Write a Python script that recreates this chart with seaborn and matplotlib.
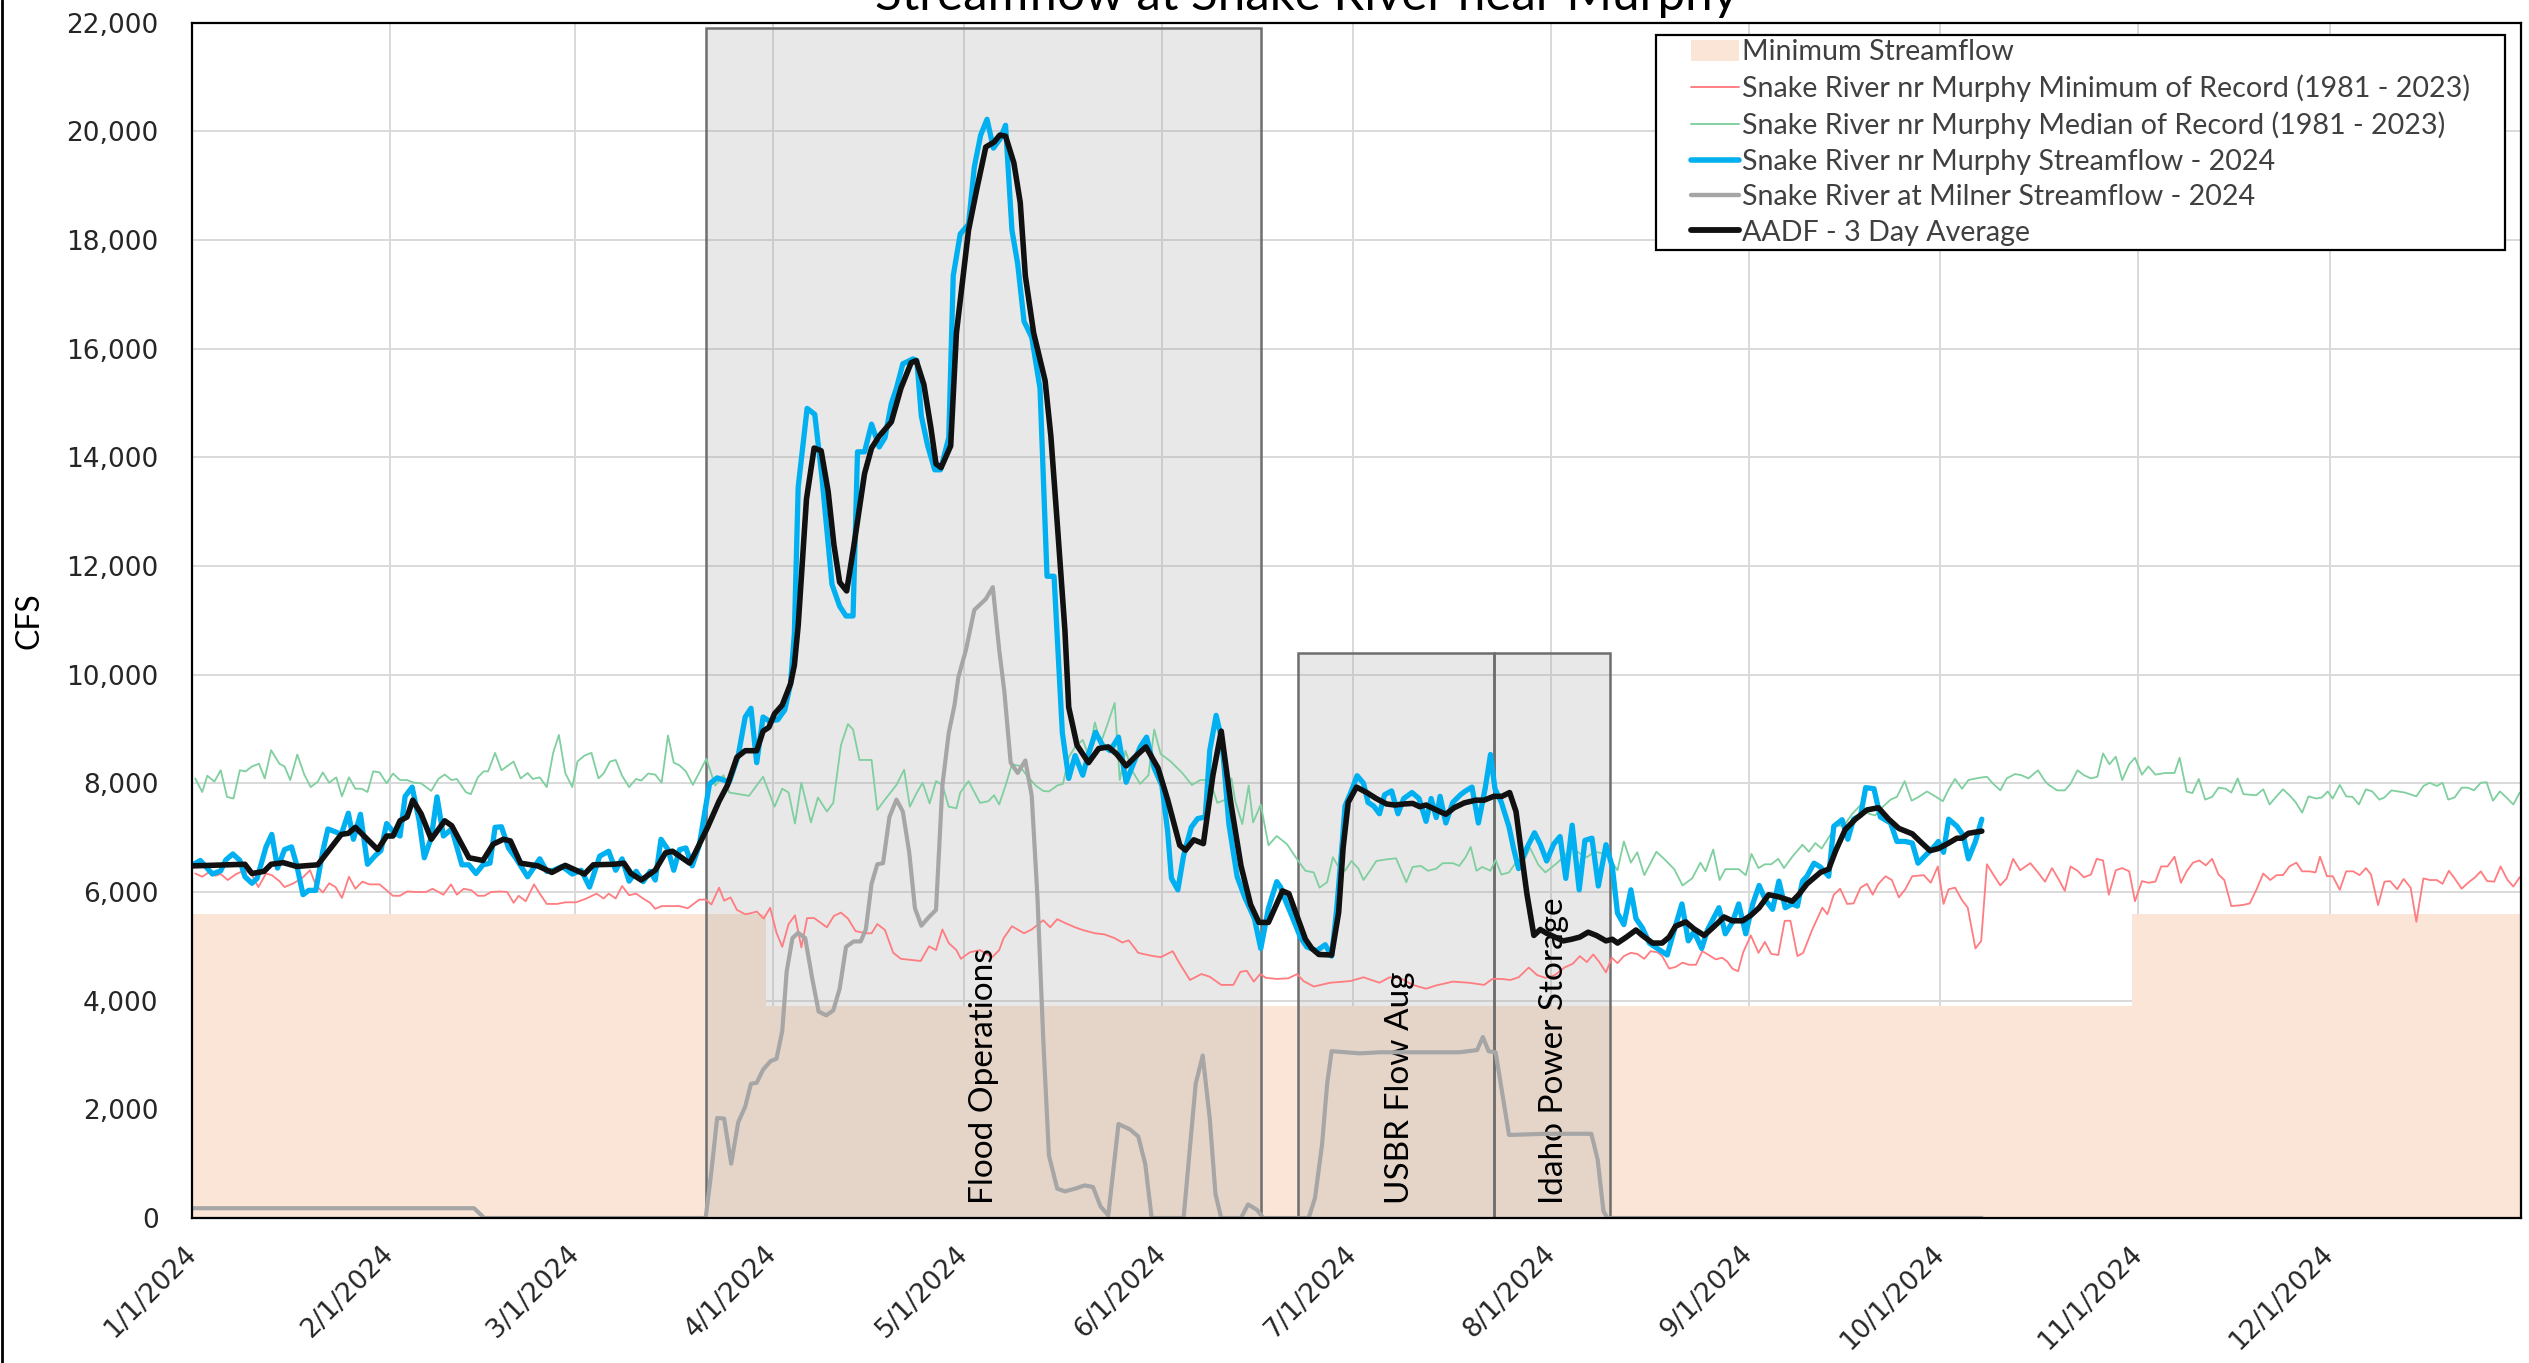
import pandas as pd
import matplotlib
matplotlib.use("Agg")
import matplotlib.pyplot as plt
import matplotlib.dates as mdates
from matplotlib.patches import Rectangle, Patch
from matplotlib.lines import Line2D
from matplotlib.ticker import MultipleLocator, FuncFormatter
import seaborn as sns

# --- data: (days after 1/1/2024, cfs) ---
min_record = [
    (0.5, 6340), (1.6, 6280), (2.6, 6360), (3.7, 6300), (4.5, 6330), (5.6, 6220), (6.9, 6330), (8.3, 6400),
    (9.4, 6310), (10.4, 6090), (11.6, 6340), (12.5, 6310), (13.7, 6200), (14.5, 6090), (15.9, 6160), (17.2, 6250),
    (18.5, 6400), (19.4, 6130), (20.5, 5990), (21.5, 6160), (22.5, 6090), (23.5, 5890), (24.6, 6280), (25.6, 6060),
    (26.7, 6190), (27.8, 6140), (29.4, 6140), (30.5, 6030), (31.5, 5930), (32.6, 5930), (33.7, 6010), (35.3, 6000),
    (36.7, 6000), (37.7, 6060), (39.4, 5950), (40.6, 6140), (41.5, 5950), (42.6, 6060), (43.8, 6030), (44.8, 5930),
    (45.8, 5930), (46.9, 6000), (48.3, 6010), (49.4, 6000), (50.4, 5800), (51.2, 5930), (52.3, 5830), (53.6, 6140),
    (54.5, 5970), (55.6, 5780), (57.2, 5780), (58.5, 5810), (60.2, 5810), (61.8, 5880), (63.4, 5970), (64.5, 5880),
    (65.3, 5970), (66.4, 5880), (67.4, 6110), (68.5, 5940), (69.6, 5970), (70.7, 5880), (71.8, 5800), (72.6, 5690),
    (73.6, 5740), (75.3, 5740), (76.4, 5740), (77.7, 5700), (79.5, 5860), (80.5, 5860), (81.4, 5770), (82.6, 6080),
    (83.4, 5840), (84.4, 5900), (85.4, 5670), (86.7, 5590), (87.6, 5610), (88.5, 5640), (89.6, 5510), (90.6, 5710),
    (91.6, 5250), (92.5, 4990), (93.5, 5410), (94.5, 5570), (95.5, 4980), (96.4, 5520), (97.5, 5520), (99.5, 5350),
    (100.6, 5560), (101.7, 5620), (102.8, 5510), (104.0, 5280), (105.6, 5240), (106.5, 5240), (107.4, 5410),
    (108.6, 5300), (109.9, 4880), (111.1, 4770), (114.2, 4730), (115.5, 5000), (116.6, 4930), (117.6, 5310),
    (118.6, 5060), (119.8, 4930), (120.5, 4770), (121.9, 4890), (123.5, 4930), (125.4, 4800), (126.5, 4930),
    (127.2, 5150), (128.5, 5370), (130.4, 5240), (131.6, 5310), (133.4, 5480), (134.5, 5350), (135.6, 5500),
    (136.8, 5430), (138.4, 5350), (139.6, 5300), (141.5, 5240), (143.0, 5220), (144.6, 5150), (145.8, 5070),
    (146.8, 5110), (148.3, 4880), (150.2, 4830), (151.8, 4800), (153.7, 4910), (154.8, 4680), (156.4, 4380),
    (158.2, 4490), (159.5, 4440), (161.3, 4290), (163.2, 4290), (164.3, 4530), (165.3, 4550), (166.4, 4350),
    (167.4, 4490), (168.3, 4420), (170.0, 4400), (171.8, 4410), (173.2, 4490), (174.2, 4360), (175.8, 4260),
    (178.4, 4330), (181.5, 4360), (183.6, 4430), (186.1, 4330), (187.7, 4430), (189.3, 4420), (191.3, 4290),
    (193.4, 4220), (195.0, 4280), (197.6, 4350), (200.1, 4330), (202.5, 4290), (203.8, 4400), (205.2, 4400),
    (206.6, 4380), (207.9, 4430), (209.5, 4610), (210.8, 4470), (212.1, 4420), (213.6, 4470), (215.1, 4610),
    (216.4, 4680), (217.5, 4820), (218.6, 4710), (219.6, 4850), (220.5, 4720), (221.6, 4520), (222.5, 4790),
    (223.4, 4690), (224.4, 4820), (225.5, 4880), (226.5, 4860), (227.6, 4770), (228.6, 4910), (229.7, 4890),
    (230.4, 4820), (231.5, 4590), (232.5, 4620), (233.6, 4700), (234.6, 4660), (235.7, 4660), (236.7, 4910),
    (237.7, 4840), (238.8, 4760), (239.8, 4790), (240.6, 4720), (241.4, 4590), (242.3, 4540), (243.1, 4890),
    (244.3, 5200), (245.5, 4880), (246.5, 5080), (247.5, 4860), (248.6, 4840), (249.6, 5470), (250.5, 5470),
    (251.6, 4820), (252.5, 4880), (253.9, 5300), (255.5, 5710), (256.3, 5590), (257.3, 5950), (258.3, 6060),
    (259.4, 5780), (260.4, 5790), (261.5, 6080), (262.5, 6150), (263.4, 5950), (264.3, 6150), (265.4, 6290),
    (266.4, 6220), (267.5, 5900), (268.5, 6050), (269.6, 6290), (271.4, 6310), (272.5, 6170), (273.6, 6470),
    (274.5, 5780), (275.3, 6050), (276.3, 6080), (277.4, 5850), (278.3, 5710), (279.5, 4960), (280.4, 5100),
    (281.3, 6510), (282.3, 6320), (283.4, 6120), (284.4, 6250), (285.4, 6610), (286.5, 6400), (288.1, 6530),
    (289.3, 6360), (290.4, 6190), (291.5, 6440), (292.6, 6220), (293.5, 6020), (294.4, 6470), (295.5, 6390),
    (296.5, 6270), (297.6, 6320), (298.5, 6610), (299.5, 6580), (300.4, 5950), (301.5, 6400), (302.5, 6440),
    (303.6, 6380), (304.5, 5830), (305.6, 6200), (306.6, 6170), (307.7, 6190), (308.6, 6470), (309.6, 6470),
    (310.7, 6650), (311.7, 6170), (312.6, 6380), (313.6, 6540), (314.6, 6580), (315.6, 6490), (316.6, 6610),
    (317.6, 6320), (318.5, 6220), (319.6, 5740), (321.4, 5760), (322.5, 5790), (323.6, 6060), (324.6, 6340),
    (325.7, 6220), (326.7, 6310), (327.7, 6310), (328.7, 6470), (329.8, 6540), (330.7, 6380), (331.8, 6380),
    (332.8, 6360), (333.5, 6650), (334.6, 6290), (335.5, 6290), (336.6, 6040), (337.6, 6380), (338.7, 6380),
    (339.7, 6310), (340.7, 6440), (341.5, 6320), (342.6, 5760), (343.6, 6190), (344.5, 6200), (345.6, 6050),
    (346.6, 6240), (347.7, 6080), (348.6, 5450), (349.7, 6250), (350.7, 6220), (351.8, 6220), (352.7, 6150),
    (353.7, 6390), (354.6, 6250), (355.7, 6060), (356.7, 6170), (357.8, 6270), (358.7, 6380), (359.7, 6200),
    (360.8, 6190), (361.8, 6470), (362.9, 6220), (363.8, 6100), (364.8, 6270),
]

median_record = [
    (0.5, 8090), (1.6, 7840), (2.4, 8140), (3.5, 8030), (4.5, 8240), (5.5, 7750), (6.5, 7720), (7.5, 8240),
    (8.4, 8220), (9.4, 8310), (10.5, 8360), (11.4, 8090), (12.4, 8610), (13.7, 8360), (14.5, 8310), (15.4, 8060),
    (16.5, 8530), (17.6, 8160), (18.6, 7930), (19.7, 8030), (20.5, 8200), (21.5, 8010), (22.6, 8110), (23.5, 7760),
    (24.6, 8110), (25.6, 7900), (26.6, 7900), (27.5, 7840), (28.4, 8220), (29.4, 8200), (30.5, 8000), (31.5, 8180),
    (32.6, 8060), (33.7, 8060), (34.8, 8010), (35.9, 8000), (37.5, 7860), (38.6, 8080), (39.6, 8160), (40.7, 8060),
    (41.5, 8080), (42.9, 7840), (43.7, 7800), (44.8, 8110), (45.7, 8220), (46.4, 8220), (47.5, 8560), (48.5, 8240),
    (50.4, 8400), (51.5, 8090), (52.6, 8190), (53.4, 8080), (54.5, 8110), (55.6, 7930), (56.6, 8560), (57.5, 8890),
    (58.5, 8190), (59.6, 7930), (60.4, 8400), (61.5, 8510), (62.6, 8560), (63.7, 8090), (64.5, 8180), (65.5, 8400),
    (66.4, 8430), (67.4, 8140), (68.5, 7930), (69.6, 8080), (70.4, 8050), (71.5, 8180), (72.6, 8160), (73.6, 8010),
    (74.6, 8880), (75.5, 8380), (76.4, 8330), (77.4, 8220), (78.5, 7970), (79.6, 8220), (80.6, 8450), (82.0, 7960),
    (83.3, 8150), (84.2, 7830), (87.3, 7770), (89.5, 8120), (91.3, 7570), (92.5, 7900), (93.5, 7830), (94.5, 7260),
    (95.5, 8010), (97.0, 7280), (98.1, 7740), (99.5, 7480), (100.5, 7640), (101.7, 8700), (102.8, 9090),
    (103.6, 8990), (104.6, 8430), (106.5, 8430), (107.4, 7510), (108.6, 7700), (110.4, 7970), (111.6, 8250),
    (112.5, 7570), (113.6, 7830), (114.5, 8010), (115.6, 7630), (116.6, 8040), (117.6, 7970), (118.6, 7570),
    (119.8, 7540), (120.4, 7830), (121.7, 8040), (123.5, 7640), (124.8, 7670), (125.7, 7780), (126.5, 7610),
    (127.5, 7960), (128.5, 8350), (129.7, 8320), (130.8, 8150), (132.2, 7960), (133.4, 7860), (134.3, 7850),
    (135.6, 7960), (136.5, 7990), (137.4, 8480), (138.4, 8670), (139.6, 8800), (140.5, 8510), (141.5, 9120),
    (142.4, 8740), (143.4, 9060), (144.6, 9480), (145.4, 8060), (146.3, 8600), (147.4, 8220), (148.6, 7990),
    (149.9, 8150), (150.8, 8990), (151.8, 8540), (153.3, 8410), (155.2, 8190), (156.7, 7970), (158.0, 8060),
    (159.5, 8060), (160.7, 7640), (162.0, 7700), (162.9, 8090), (163.5, 7670), (164.6, 7250), (165.6, 7960),
    (166.3, 7280), (167.5, 7610), (168.7, 6860), (170.0, 7030), (171.6, 6880), (173.2, 6600), (174.5, 6390),
    (175.8, 6360), (176.7, 6080), (177.9, 6180), (178.8, 6640), (179.7, 6460), (180.7, 6390), (181.7, 6570),
    (182.8, 6430), (183.6, 6220), (184.6, 6390), (185.6, 6570), (187.2, 6600), (188.7, 6620), (190.3, 6180),
    (191.3, 6460), (192.6, 6480), (193.7, 6390), (195.0, 6430), (196.0, 6530), (197.6, 6530), (198.6, 6480),
    (199.6, 6640), (200.4, 6830), (201.3, 6390), (202.2, 6460), (203.5, 6390), (204.3, 6590), (205.2, 6320),
    (206.4, 6360), (207.4, 6530), (208.7, 6570), (209.7, 6810), (211.0, 6500), (212.1, 6360), (213.9, 6530),
    (214.9, 6640), (216.2, 6810), (217.5, 6710), (218.6, 6640), (219.8, 6740), (221.6, 6700), (223.4, 6400),
    (224.4, 6930), (225.5, 6540), (226.5, 6730), (227.6, 6310), (229.5, 6740), (230.7, 6610), (232.3, 6420),
    (233.6, 6120), (235.1, 6250), (236.4, 6540), (237.2, 6380), (238.4, 6780), (239.4, 6220), (240.3, 6420),
    (242.4, 6420), (243.5, 6310), (244.4, 6700), (245.5, 6440), (246.5, 6510), (247.5, 6510), (248.6, 6610),
    (249.5, 6440), (250.8, 6650), (252.4, 6870), (253.4, 6740), (254.4, 6900), (255.4, 6800), (256.5, 7000),
    (257.7, 7220), (258.9, 7220), (260.2, 7440), (261.5, 7600), (262.8, 7440), (263.8, 7410), (265.1, 7580),
    (266.2, 7700), (267.2, 7750), (268.4, 8040), (269.5, 7680), (270.6, 7750), (271.9, 7850), (273.2, 7760),
    (274.4, 7670), (275.3, 7890), (276.3, 8080), (277.4, 7900), (278.4, 8060), (280.0, 8100), (281.3, 8120),
    (282.3, 7990), (283.4, 7870), (284.4, 8090), (285.7, 8170), (286.7, 8150), (287.8, 8090), (289.3, 8240),
    (290.4, 8040), (291.0, 7970), (292.3, 7870), (293.5, 7870), (294.4, 7990), (295.5, 8240), (296.5, 8150),
    (297.6, 8090), (298.6, 8120), (299.5, 8550), (300.5, 8350), (301.5, 8490), (302.5, 8060), (303.6, 8350),
    (304.5, 8470), (305.6, 8160), (306.6, 8310), (307.7, 8160), (309.3, 8190), (310.7, 8190), (311.5, 8470),
    (312.6, 7850), (313.5, 7820), (314.5, 8080), (315.5, 7700), (316.6, 7750), (317.6, 7920), (318.7, 7900),
    (319.6, 7830), (320.6, 8090), (321.5, 7800), (323.5, 7780), (324.6, 7890), (325.6, 7610), (326.6, 7750),
    (327.7, 7890), (328.7, 7780), (329.7, 7650), (330.7, 7460), (331.7, 7760), (332.9, 7720), (333.8, 7740),
    (334.7, 7850), (335.5, 7720), (336.6, 7970), (337.6, 7760), (338.6, 7750), (339.6, 7610), (340.7, 7890),
    (341.7, 7850), (342.8, 7700), (343.6, 7740), (344.7, 7870), (346.8, 7830), (348.6, 7760), (349.7, 7950),
    (350.7, 8010), (351.8, 7950), (352.7, 8010), (353.6, 7700), (354.6, 7740), (355.7, 7920), (356.7, 7920),
    (357.6, 7870), (358.7, 8010), (359.6, 8020), (360.6, 7680), (361.7, 7850), (362.7, 7740), (363.8, 7610),
    (364.8, 7830),
]

murphy_2024 = [
    (0.0, 6490), (1.3, 6580), (3.2, 6330), (4.5, 6390), (5.3, 6590), (6.4, 6700), (7.5, 6580), (8.3, 6280),
    (9.4, 6160), (10.2, 6250), (11.6, 6830), (12.5, 7060), (13.4, 6440), (14.5, 6780), (15.6, 6830), (16.4, 6500),
    (17.4, 5950), (18.3, 6030), (19.4, 6030), (20.5, 6750), (21.3, 7160), (22.4, 7110), (23.4, 7060), (24.5, 7450),
    (25.3, 6970), (26.4, 7430), (27.5, 6510), (28.8, 6680), (29.6, 6760), (30.5, 7260), (31.5, 7110), (32.6, 7030),
    (33.4, 7760), (34.5, 7930), (35.6, 7310), (36.4, 6630), (37.5, 7000), (38.4, 7750), (39.4, 7030), (40.7, 7160),
    (42.3, 6500), (43.4, 6500), (44.5, 6340), (45.6, 6500), (46.7, 6530), (47.5, 7190), (48.5, 7200), (49.6, 6810),
    (50.7, 6630), (52.6, 6280), (54.5, 6610), (55.6, 6380), (56.7, 6400), (58.0, 6470), (59.6, 6330), (61.0, 6400),
    (62.3, 6090), (63.9, 6660), (65.3, 6750), (66.4, 6400), (67.4, 6610), (68.5, 6200), (69.6, 6380), (70.7, 6190),
    (71.8, 6380), (72.6, 6220), (73.5, 6970), (74.6, 6780), (75.5, 6400), (76.4, 6780), (77.4, 6810), (78.4, 6480),
    (79.5, 6860), (81.1, 7990), (82.3, 8100), (83.3, 8060), (84.2, 8020), (85.6, 8510), (86.7, 9220), (87.6, 9380),
    (88.5, 8380), (89.5, 9220), (90.4, 9150), (91.8, 9170), (92.9, 9350), (93.8, 9830), (94.4, 10750),
    (95.0, 13450), (96.4, 14900), (97.6, 14790), (98.7, 13660), (100.3, 11660), (101.5, 11260), (102.5, 11080),
    (103.6, 11080), (104.3, 14100), (105.4, 14100), (106.5, 14610), (107.7, 14190), (108.6, 14360),
    (109.6, 14990), (110.4, 15270), (111.4, 15720), (113.0, 15810), (113.6, 15780), (114.3, 14760),
    (115.3, 14210), (116.4, 13770), (117.3, 13770), (118.6, 14360), (119.3, 17340), (120.4, 18110),
    (121.7, 18290), (122.6, 19340), (123.6, 19930), (124.6, 20220), (125.6, 19690), (126.6, 19850),
    (127.5, 20110), (128.5, 18180), (129.4, 17560), (130.4, 16500), (131.6, 16210), (132.9, 15270),
    (134.0, 11810), (135.1, 11810), (136.4, 8930), (137.4, 8090), (138.4, 8510), (139.6, 8150), (140.5, 8540),
    (141.6, 8940), (142.7, 8700), (143.9, 8600), (145.2, 8850), (146.4, 8020), (147.7, 8410), (148.6, 8670),
    (149.6, 8850), (150.8, 8280), (152.0, 7960), (152.9, 7120), (153.5, 6250), (154.5, 6040), (155.4, 6670),
    (156.6, 7190), (157.6, 7350), (158.8, 7380), (159.5, 8600), (160.5, 9250), (161.4, 8800), (162.5, 7250),
    (163.8, 6280), (165.0, 5900), (166.5, 5510), (167.5, 4960), (168.7, 5700), (170.0, 6190), (170.6, 6090),
    (171.4, 5830), (172.4, 5550), (173.7, 5170), (174.7, 4990), (176.3, 4920), (177.6, 5030), (178.6, 4820),
    (179.4, 5690), (180.2, 6810), (180.7, 7580), (181.7, 7860), (182.6, 8140), (183.6, 8000), (184.3, 7650),
    (185.2, 7580), (186.1, 7440), (186.9, 7790), (188.0, 7860), (189.0, 7440), (189.9, 7720), (191.2, 7830),
    (192.3, 7720), (193.4, 7300), (194.2, 7720), (195.0, 7370), (195.6, 7760), (196.5, 7270), (197.6, 7650),
    (198.8, 7790), (199.6, 7860), (200.6, 7930), (201.6, 7270), (202.7, 7930), (203.5, 8530), (204.2, 7900),
    (205.2, 7650), (206.4, 7200), (207.1, 6810), (207.9, 6430), (209.2, 6810), (210.4, 7090), (211.3, 6880),
    (212.3, 6570), (213.4, 6880), (214.4, 7020), (215.3, 6250), (216.3, 7230), (217.4, 6040), (218.3, 6950),
    (219.4, 6990), (220.4, 6110), (221.6, 6870), (222.6, 6460), (223.4, 5610), (224.4, 5400), (225.5, 6040),
    (226.3, 5510), (227.3, 5340), (228.4, 5060), (229.4, 4980), (231.2, 4840), (232.3, 5300), (233.5, 5780),
    (234.5, 5100), (235.4, 5270), (236.6, 4960), (237.5, 5300), (239.3, 5710), (240.3, 5230), (241.4, 5440),
    (242.4, 5780), (243.5, 5230), (244.6, 5780), (245.6, 6120), (246.6, 5850), (247.7, 5680), (248.7, 6200),
    (249.7, 5710), (250.8, 5780), (251.6, 5740), (252.4, 6200), (253.1, 6290), (254.2, 6530), (255.2, 6460),
    (256.5, 6290), (257.3, 7210), (258.6, 7330), (259.5, 6970), (260.4, 7340), (261.5, 7410), (262.3, 7920),
    (263.6, 7900), (264.6, 7380), (266.2, 7270), (267.2, 6930), (268.5, 6930), (269.6, 6900), (270.5, 6530),
    (271.9, 6700), (273.0, 6830), (273.7, 6930), (274.5, 6730), (275.3, 7340), (276.6, 7210), (277.6, 7040),
    (278.4, 6610), (279.5, 6930), (280.5, 7340),
]

milner_2024 = [
    (0.0, 180), (44.2, 180), (45.8, 0), (80.5, 0), (81.4, 860), (82.3, 1840), (83.4, 1830), (84.5, 1000),
    (85.6, 1760), (86.7, 2050), (87.6, 2470), (88.5, 2490), (89.5, 2730), (90.7, 2890), (91.6, 2930),
    (92.5, 3440), (93.2, 4540), (94.1, 5150), (95.0, 5250), (96.1, 5150), (97.2, 4410), (98.2, 3800),
    (99.4, 3730), (100.5, 3820), (101.5, 4220), (102.5, 4990), (103.7, 5090), (104.8, 5090), (105.6, 5310),
    (106.5, 6150), (107.4, 6510), (108.3, 6530), (109.3, 7380), (110.4, 7700), (111.4, 7480), (112.4, 6730),
    (113.3, 5700), (114.3, 5380), (115.5, 5540), (116.6, 5670), (117.6, 7960), (118.6, 8930), (119.5, 9440),
    (120.1, 9950), (121.3, 10460), (122.6, 11190), (124.4, 11390), (125.5, 11610), (126.5, 10460),
    (127.3, 9700), (128.3, 8380), (129.4, 8190), (130.6, 8420), (131.6, 7770), (132.5, 5900), (133.4, 3310),
    (134.3, 1150), (135.6, 540), (136.8, 490), (138.4, 540), (139.9, 600), (141.2, 570), (142.4, 210),
    (143.6, 50), (145.2, 1730), (147.0, 1630), (148.3, 1500), (149.4, 990), (150.4, 0), (155.4, 0),
    (157.3, 2470), (158.4, 2990), (159.5, 1830), (160.4, 440), (161.3, 0), (164.4, 0), (165.5, 250),
    (166.9, 150), (167.9, 0), (175.0, 0), (176.0, 370), (177.1, 1350), (177.9, 2470), (178.6, 3070),
    (183.0, 3030), (186.1, 3050), (192.4, 3050), (198.6, 3050), (201.4, 3090), (202.3, 3330), (203.2, 3070),
    (204.3, 3050), (205.2, 2400), (206.4, 1530), (206.9, 1530), (212.1, 1550), (219.3, 1550), (220.3, 1070),
    (221.2, 130), (221.8, 0), (280.5, 0),
]

aadf_3day = [
    (0.0, 6480), (8.3, 6510), (9.4, 6340), (11.3, 6380), (12.4, 6510), (14.3, 6540), (16.4, 6470), (19.7, 6500),
    (23.4, 7060), (24.5, 7080), (25.6, 7190), (29.1, 6780), (30.5, 7030), (31.5, 7030), (32.6, 7310),
    (33.7, 7380), (34.6, 7690), (35.9, 7440), (37.5, 6970), (39.6, 7310), (40.7, 7220), (43.4, 6630),
    (45.6, 6580), (47.2, 6880), (48.8, 6970), (49.9, 6940), (51.5, 6530), (54.2, 6480), (56.4, 6360),
    (58.5, 6490), (61.5, 6330), (62.9, 6500), (66.1, 6510), (67.7, 6530), (68.8, 6340), (70.4, 6220),
    (72.6, 6400), (74.2, 6720), (75.3, 6750), (78.0, 6530), (78.9, 6730), (80.8, 7190), (82.6, 7670),
    (83.9, 7960), (85.4, 8480), (86.7, 8600), (88.5, 8600), (89.5, 8960), (90.4, 9030), (91.3, 9280),
    (92.5, 9440), (93.8, 9830), (94.4, 10170), (95.0, 10900), (96.3, 13230), (97.5, 14170), (98.6, 14120),
    (99.7, 13370), (100.6, 12390), (101.5, 11700), (102.6, 11540), (103.7, 12350), (105.4, 13700),
    (106.5, 14170), (107.7, 14390), (109.6, 14650), (111.1, 15270), (112.7, 15740), (113.5, 15780),
    (114.7, 15340), (115.8, 14540), (116.6, 13880), (117.4, 13810), (118.9, 14210), (119.8, 16290),
    (121.7, 18180), (123.0, 18940), (124.4, 19710), (125.7, 19800), (126.6, 19930), (127.5, 19910),
    (128.8, 19420), (129.8, 18690), (130.6, 17340), (131.9, 16290), (133.7, 15410), (134.6, 14390),
    (135.6, 12790), (136.8, 10820), (137.4, 9400), (138.7, 8700), (140.5, 8380), (142.1, 8640), (143.6, 8670),
    (144.9, 8540), (146.4, 8320), (148.0, 8510), (149.5, 8670), (151.4, 8280), (152.9, 7700), (154.8, 6860),
    (155.7, 6770), (157.0, 6960), (158.5, 6890), (160.0, 8150), (161.3, 8960), (162.8, 7640), (164.4, 6480),
    (165.9, 5770), (167.2, 5440), (168.7, 5440), (170.9, 6020), (171.9, 5970), (173.2, 5550), (174.5, 5130),
    (175.5, 4960), (176.6, 4850), (178.6, 4840), (179.7, 5620), (180.4, 6810), (181.2, 7650), (182.5, 7930),
    (184.1, 7830), (185.6, 7720), (187.2, 7620), (188.5, 7600), (190.0, 7620), (191.3, 7630), (192.4, 7570),
    (193.4, 7600), (195.0, 7510), (196.5, 7430), (197.8, 7550), (199.4, 7640), (201.2, 7690), (202.5, 7690),
    (204.0, 7760), (205.3, 7760), (206.5, 7830), (207.5, 7480), (208.4, 6670), (209.2, 5970), (210.3, 5200),
    (211.3, 5310), (212.3, 5240), (213.6, 5170), (214.9, 5100), (216.2, 5130), (217.5, 5170), (218.8, 5260),
    (220.1, 5200), (221.6, 5100), (222.6, 5130), (223.4, 5060), (224.8, 5170), (226.3, 5300), (227.3, 5200),
    (228.9, 5060), (230.4, 5060), (231.5, 5170), (232.5, 5370), (234.1, 5450), (235.4, 5320), (237.0, 5200),
    (238.5, 5360), (240.1, 5540), (241.4, 5470), (243.0, 5470), (244.3, 5570), (245.6, 5710), (247.1, 5950),
    (248.7, 5910), (250.8, 5830), (251.8, 5950), (253.1, 6150), (255.2, 6360), (256.5, 6420), (257.6, 6760),
    (259.1, 7150), (260.7, 7340), (262.5, 7510), (264.3, 7550), (265.9, 7340), (267.5, 7170), (269.6, 7070),
    (271.1, 6900), (272.4, 6760), (273.7, 6800), (275.3, 6900), (276.6, 6990), (277.4, 6990), (278.4, 7080),
    (280.5, 7120),
]

# minimum streamflow target (step changes)
minflow_start = ["2024-01-01", "2024-03-31", "2024-10-31", "2024-12-31"]
minflow_cfs = [5600, 3900, 5600, 5600]

# shaded operation periods: name, start day, end day, top (cfs), label day
periods = ["Flood Operations", "USBR Flow Aug", "Idaho Power Storage"]
period_start = [80.5, 173.3, 204.0]
period_end = [167.5, 204.0, 222.2]
period_top = [21900, 10400, 10400]
period_label_day = [124.1, 189.3, 213.4]

series_names = [
    "Snake River nr Murphy Minimum of Record (1981 - 2023)",
    "Snake River nr Murphy Median of Record (1981 - 2023)",
    "Snake River at Milner Streamflow - 2024",
    "Snake River nr Murphy Streamflow - 2024",
    "AADF - 3 Day Average",
]

jan1 = pd.Timestamp("2024-01-01")
W, H = 2529, 1363


def to_frame(points):
    days, cfs = zip(*points)
    return pd.DataFrame({"date": jan1 + pd.to_timedelta(list(days), unit="D"), "cfs": list(cfs)})


sns.set_style("white")
plt.rcParams["font.family"] = ["Lato", "DejaVu Sans"]

fig = plt.figure(figsize=(W / 100, H / 100), dpi=100)
ax = fig.add_axes([192 / W, 145 / H, 2329 / W, 1195.4 / H])

ax.set_xlim(mdates.date2num(jan1), mdates.date2num(pd.Timestamp("2024-12-31")))
ax.set_ylim(0, 22000)

# gridlines drawn under the filled areas
months = pd.date_range("2024-01-01", "2024-12-01", freq="MS")
for m in months:
    ax.axvline(mdates.date2num(m), color="#d9d9d9", lw=1.4, zorder=0.3)
for v in range(2000, 22001, 2000):
    ax.axhline(v, color="#d9d9d9", lw=1.4, zorder=0.3)

peach = "#fbe5d6"
ax.fill_between(pd.to_datetime(minflow_start), minflow_cfs, step="post", color=peach, lw=0, zorder=1)

for name, s, e, top, lab in zip(periods, period_start, period_end, period_top, period_label_day):
    x0 = mdates.date2num(jan1 + pd.Timedelta(days=s))
    x1 = mdates.date2num(jan1 + pd.Timedelta(days=e))
    ax.add_patch(Rectangle((x0, 0), x1 - x0, top, facecolor="#a6a6a6", alpha=0.25, lw=0, zorder=1.5))
    ax.add_patch(Rectangle((x0, 0), x1 - x0, top, facecolor="none", edgecolor="#6e6e6e", lw=1.8, zorder=1.6))
    ax.text(mdates.date2num(jan1 + pd.Timedelta(days=lab)), 250, name, rotation=90, ha="center", va="bottom",
            fontsize=24, color="black", zorder=5)

styles = [
    ("#ff7c80", 1.3),
    ("#7fcf9f", 1.3),
    ("#a6a6a6", 3.0),
    ("#00b0f0", 3.8),
    ("#111111", 4.0),
]
frames = [to_frame(p) for p in (min_record, median_record, milner_2024, murphy_2024, aadf_3day)]
for i, (df, (c, lw)) in enumerate(zip(frames, styles)):
    sns.lineplot(data=df, x="date", y="cfs", ax=ax, color=c, linewidth=lw, sort=False,
                 estimator=None, legend=False, zorder=3 + i)

# axes styling
for sp in ax.spines.values():
    sp.set_visible(True)
    sp.set_color("black")
    sp.set_linewidth(1.6)
    sp.set_zorder(10)
ax.set_xlabel("")
ax.set_ylabel("")
ax.yaxis.set_major_locator(MultipleLocator(2000))
ax.yaxis.set_major_formatter(FuncFormatter(lambda v, p: f"{v:,.0f}"))
ax.xaxis.set_major_locator(mdates.MonthLocator())
ax.xaxis.set_major_formatter(FuncFormatter(
    lambda v, p: f"{mdates.num2date(v).month}/{mdates.num2date(v).day}/{mdates.num2date(v).year}"))
ax.tick_params(axis="y", length=0, pad=24, labelsize=19)
ax.tick_params(axis="x", direction="in", length=9, width=1.5, pad=23, labelsize=19, color="black")
for t in ax.get_yticklabels():
    t.set_family("DejaVu Sans")
for t in ax.get_xticklabels():
    t.set_family("DejaVu Sans")
    t.set_rotation(45)
    t.set_ha("right")
    t.set_va("center")
    t.set_rotation_mode("anchor")

# legend: white box with wide side margins, content centred inside
box_l, box_r, box_t, box_b = 1656, 2505, 35, 250
fig.add_artist(Rectangle((box_l / W, 1 - box_b / H), (box_r - box_l) / W, (box_b - box_t) / H,
                         transform=fig.transFigure, facecolor="white", edgecolor="black", lw=1.6, zorder=4))
handles = [Patch(facecolor=peach, edgecolor="none", label="Minimum Streamflow")]
for i in [0, 1, 3, 2, 4]:
    c, lw = styles[i]
    handles.append(Line2D([], [], color=c, lw=lw * 1.05, label=series_names[i]))
leg = fig.legend(handles=handles, loc="center", bbox_to_anchor=((box_l + box_r) / 2 / W, 1 - (box_t + box_b) / 2 / H),
                 bbox_transform=fig.transFigure, fontsize=20.6, frameon=False, borderpad=0, borderaxespad=0,
                 handlelength=1.65, handleheight=0.75, handletextpad=0.1, labelspacing=0.33,
                 labelcolor="#404040")
leg.set_zorder(5)

fig.text(0.5165, 1 - 10 / H, "Streamflow at Snake River near Murphy", ha="center", va="baseline",
         fontsize=35.5, color="black")
fig.text(29 / W, 0.5444, "CFS", rotation=90, ha="center", va="center", fontsize=23, color="black")
fig.add_artist(Line2D([0.0006, 0.0006], [0, 1], color="black", lw=2, transform=fig.transFigure))

fig.savefig("out.png", dpi=100)
